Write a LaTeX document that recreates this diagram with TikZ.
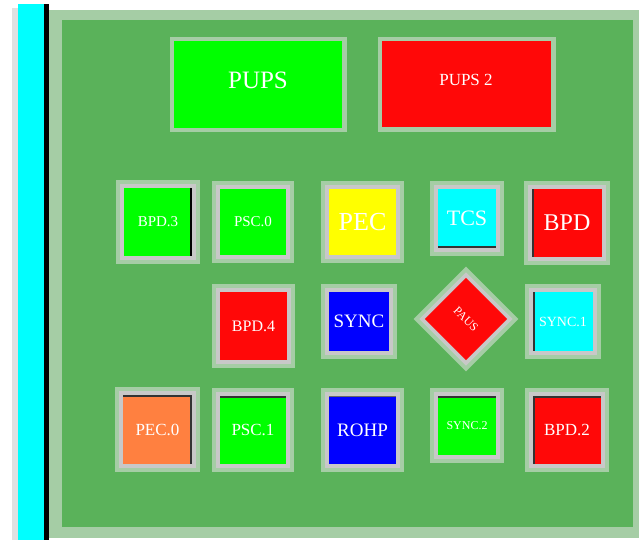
\documentclass[tikz,border=0pt]{standalone}
\usepackage{fontspec}
\setmainfont{Liberation Serif}
\definecolor{panelgreen}{RGB}{90,178,90}
\definecolor{hatchc}{RGB}{165,205,165}
\definecolor{hatchl}{RGB}{225,225,225}
\definecolor{framec}{RGB}{200,200,200}
\definecolor{lgreen}{RGB}{0,255,0}
\definecolor{lred}{RGB}{255,8,8}
\definecolor{lyellow}{RGB}{255,255,0}
\definecolor{lcyan}{RGB}{0,255,255}
\definecolor{lblue}{RGB}{0,0,255}
\definecolor{lorange}{RGB}{255,128,64}
\tikzset{
  lbl/.style={text=white, inner sep=0pt, font=\fontsize{#1}{#1}\selectfont},
}
% fill rectangle x1 y1 x2 y2, colour, name, label, size
\newcommand\tile[8]{%
  \fill[hatchc] ({#1-8},{#2-8}) rectangle ({#3+8},{#4+8});
  \fill[framec] ({#1-4},{#2-4}) rectangle ({#3+4},{#4+4});
  \fill[#5] (#1,#2) rectangle (#3,#4);
  \node[lbl=#8] (#6) at ({(#1+#3)/2},{(#2+#4)/2}) {#7};
}
\begin{document}
\begin{tikzpicture}[x=1pt,y=-1pt]
\useasboundingbox (0,0) rectangle (639,540);
\fill[white] (0,0) rectangle (639,540);
% left strips
\fill[hatchl] (12,8) rectangle (18,540);
\fill[lcyan] (18,4) rectangle (44,540);
\fill[black] (44,4) rectangle (49,540);
\fill[hatchc] (49,10) rectangle (639,538);
% panel
\fill[panelgreen] (62,20) rectangle (633,527);
% top wide boxes
\fill[hatchc] (170,37) rectangle (347,132);
\fill[lgreen] (174,41) rectangle (342,128);
\node[lbl=25] (pups) at (258,80) {PUPS};
\fill[hatchc] (378,37) rectangle (556,132);
\fill[lred] (382,41) rectangle (551,127);
\node[lbl=17] (pups2) at (466,80) {PUPS 2};
% row 1
\tile{124}{188}{192}{256}{lgreen}{bpd3}{BPD.3}{15}
\fill[black] (190,188) rectangle (192,256);
\tile{220}{189}{286}{255}{lgreen}{psc0}{PSC.0}{15}
\tile{329}{189}{396}{255}{lyellow}{pec}{PEC}{26}
\tile{438}{189}{496}{248}{lcyan}{tcs}{TCS}{22}
\fill[black!80] (438,246) rectangle (496,248);
\tile{532}{189}{602}{257}{lred}{bpd}{BPD}{24}
\fill[black!80] (532,189) rectangle (534,257);
% row 2
\tile{220}{292}{287}{360}{lred}{bpd4}{BPD.4}{16}
\tile{329}{292}{389}{351}{lblue}{sync}{SYNC}{19}
\tile{533}{292}{593}{351}{lcyan}{sync1}{SYNC.1}{14}
\fill[black!80] (533,292) rectangle (535,351);
% diamond
\begin{scope}[shift={(466,319)}, rotate=45]
  \fill[hatchc] (-37,-37) rectangle (37,37);
  \fill[framec] (-33,-33) rectangle (33,33);
  \fill[lred] (-29,-29) rectangle (29,29);
\end{scope}
\node[lbl=12, rotate=-45] (paus) at (466,319) {PAUS};
% row 3
\tile{123}{395}{192}{464}{lorange}{pec0}{PEC.0}{17}
\fill[black!80] (190,395) rectangle (192,464);
\fill[black!80] (123,395) rectangle (192,397);
\tile{220}{396}{286}{464}{lgreen}{fsc1}{PSC.1}{17}
\fill[black!80] (220,396) rectangle (286,398);
\tile{329}{396}{396}{464}{lblue}{rohp}{ROHP}{19}
\fill[black!60] (329,396) rectangle (396,397);
\tile{438}{396}{496}{455}{lgreen}{sync2}{SYNC.2}{12}
\fill[black!80] (438,396) rectangle (496,398);
\tile{533}{396}{601}{464}{lred}{bpd2}{BPD.2}{17}
\fill[black!80] (533,396) rectangle (535,464);
\fill[black!80] (533,396) rectangle (601,398);
\end{tikzpicture}
\end{document}
